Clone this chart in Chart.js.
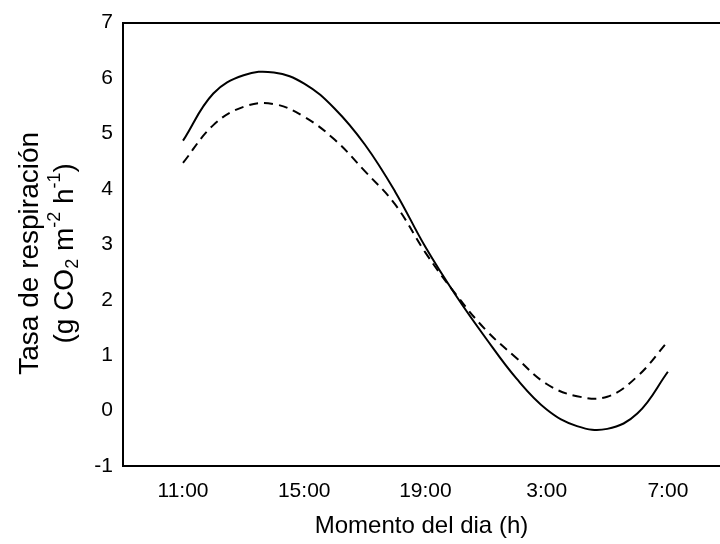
<!DOCTYPE html>
<html>
<head>
<meta charset="utf-8">
<script src="https://cdn.jsdelivr.net/npm/chart.js@4"></script>
<style>
  html, body { margin: 0; padding: 0; background: #fff; }
  #wrap { width: 720px; height: 544px; }
</style>
</head>
<body>
<div id="wrap"><canvas id="respChart"></canvas></div>
<script>
// tick labels on the x axis (evenly spaced positions 0..4)
const tickLabels = ['11:00', '15:00', '19:00', '3:00', '7:00'];

// positions along the x axis, in tick units
const xPositions = [0, 0.25, 0.5, 0.75, 1, 1.25, 1.5, 1.75, 2, 2.25, 2.5, 2.75, 3, 3.25, 3.5, 3.75, 4];

// solid curve
const solidValues = [4.87, 5.72, 6.05, 6.10, 5.90, 5.45, 4.80, 3.95, 2.95, 2.08, 1.30, 0.58, 0.02, -0.28, -0.33, -0.05, 0.70];

// dashed curve
const dashedValues = [4.47, 5.15, 5.48, 5.53, 5.30, 4.89, 4.32, 3.72, 2.85, 2.10, 1.45, 0.95, 0.48, 0.26, 0.25, 0.62, 1.25];

// y axis title: first line, then second line split into normal / sub / sup parts
const yTitleLine1 = 'Tasa de respiración';
const yTitleLine2 = [
    { t: '(g CO' }, { t: '2', sub: true }, { t: ' m' }, { t: '-2', sup: true },
    { t: ' h' }, { t: '-1', sup: true }, { t: ')' }
];

const toPoints = (vals) => vals.map((v, i) => ({ x: xPositions[i], y: v }));

const fontFamily = '"Liberation Sans", Arial, sans-serif';

// draws the two-line rotated y title with real sub/superscripts
const yTitlePlugin = {
    id: 'yTitle',
    afterDraw(chart) {
        const c = chart.ctx;
        const midY = (chart.chartArea.top + chart.chartArea.bottom) / 2 + 9;
        const big = '28px ' + fontFamily;
        const small = '18px ' + fontFamily;
        c.save();
        c.fillStyle = '#000';
        c.textBaseline = 'middle';

        // line 1
        c.translate(30, midY);
        c.rotate(-Math.PI / 2);
        c.font = big;
        c.textAlign = 'center';
        c.fillText(yTitleLine1, 0, 0);
        c.restore();

        // line 2
        c.save();
        c.fillStyle = '#000';
        c.textBaseline = 'middle';
        c.translate(65, midY);
        c.rotate(-Math.PI / 2);
        let total = 0;
        yTitleLine2.forEach(s => {
            c.font = (s.sub || s.sup) ? small : big;
            total += c.measureText(s.t).width;
        });
        let x = -total / 2;
        c.textAlign = 'left';
        yTitleLine2.forEach(s => {
            c.font = (s.sub || s.sup) ? small : big;
            const dy = s.sub ? 8 : (s.sup ? -10 : 0);
            c.fillText(s.t, x, dy);
            x += c.measureText(s.t).width;
        });
        c.restore();
    }
};

document.addEventListener('DOMContentLoaded', function() {
    const ctx = document.getElementById('respChart');

    new Chart(ctx, {
        type: 'line',
        data: {
            datasets: [{
                label: 'solid',
                data: toPoints(solidValues),
                borderColor: '#000',
                borderWidth: 2,
                tension: 0.4,
                pointRadius: 0,
                fill: false
            }, {
                label: 'dashed',
                data: toPoints(dashedValues),
                borderColor: '#000',
                borderWidth: 2,
                borderDash: [9, 6],
                tension: 0.4,
                pointRadius: 0,
                fill: false
            }]
        },
        options: {
            responsive: true,
            maintainAspectRatio: false,
            animation: false,
            layout: { padding: 0 },
            plugins: {
                legend: { display: false },
                tooltip: { enabled: false }
            },
            scales: {
                x: {
                    type: 'linear',
                    min: -0.495,
                    max: 4.43,
                    grid: { display: false, drawTicks: false },
                    border: { display: true, color: '#000', width: 2 },
                    ticks: {
                        stepSize: 1,
                        includeBounds: false,
                        padding: 13,
                        color: '#000',
                        font: { family: fontFamily, size: 21 },
                        maxRotation: 0,
                        callback: (v) => Number.isInteger(v) && tickLabels[v] !== undefined ? tickLabels[v] : ''
                    },
                    title: {
                        display: true,
                        text: 'Momento del dia (h)',
                        color: '#000',
                        font: { family: fontFamily, size: 24 },
                        padding: { top: 0, bottom: 3 }
                    },
                    afterFit: (scale) => { scale.height = 78; }
                },
                xTop: {
                    type: 'linear',
                    position: 'top',
                    min: -0.495,
                    max: 4.43,
                    grid: { display: false, drawTicks: false },
                    border: { display: true, color: '#000', width: 2 },
                    ticks: { display: false },
                    afterFit: (scale) => { scale.height = 17; }
                },
                y: {
                    min: -1,
                    max: 7,
                    grid: { display: false, drawTicks: false },
                    border: { display: true, color: '#000', width: 2 },
                    ticks: {
                        stepSize: 1,
                        padding: 10,
                        color: '#000',
                        font: { family: fontFamily, size: 21 }
                    },
                    afterFit: (scale) => { scale.width = 123; }
                }
            }
        },
        plugins: [yTitlePlugin]
    });
});
</script>
</body>
</html>
